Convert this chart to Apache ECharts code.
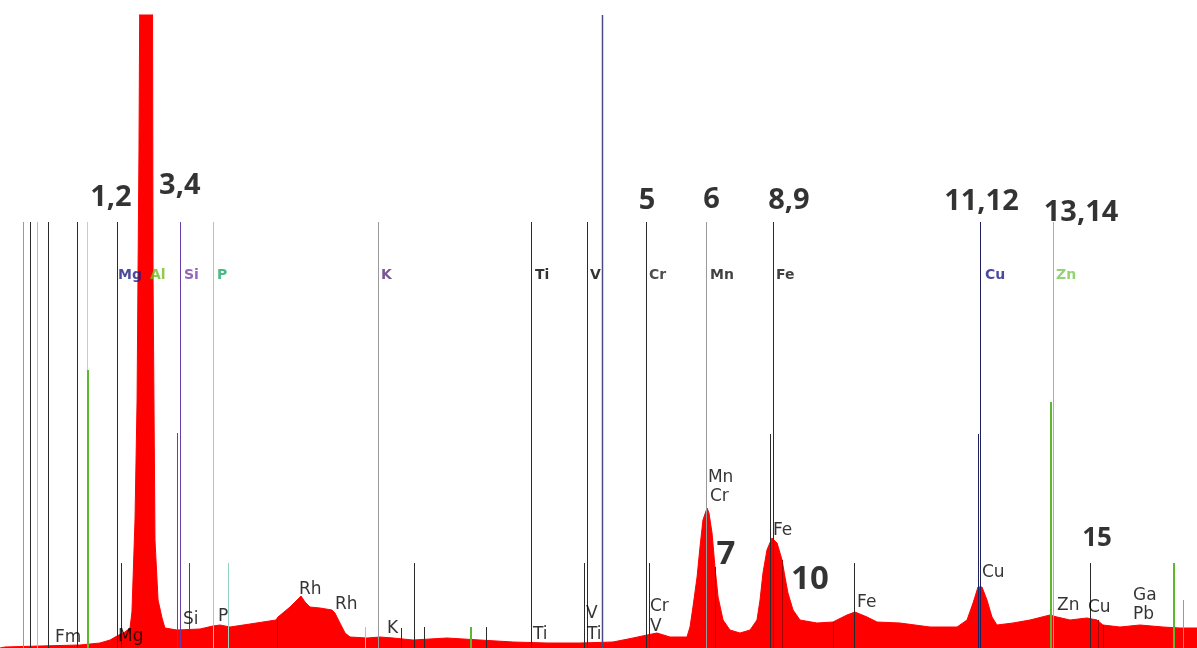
<!DOCTYPE html>
<html>
<head>
<meta charset="utf-8">
<script src="https://cdn.jsdelivr.net/npm/echarts@6/dist/echarts.min.js"></script>
<style>
html,body{margin:0;padding:0;background:#fff;}
#chart{width:1197px;height:648px;}
</style>
</head>
<body>
<div id="chart"></div>
<script>
// ---- Spectrum (energy in keV, intensity in counts) ----
const energy = [0.367,0.406,0.680,0.992,1.148,1.227,1.281,1.344,1.383,1.398,1.422,1.438,1.445,1.453,1.461,1.469,1.555,1.563,1.570,1.578,1.602,1.633,1.656,1.750,1.930,2.031,2.086,2.164,2.320,2.523,2.539,2.633,2.688,2.719,2.750,2.789,2.867,2.961,2.984,3.023,3.063,3.102,3.234,3.336,3.438,3.594,3.859,4.117,4.375,4.641,4.898,5.156,5.313,5.422,5.500,5.602,5.734,5.758,5.781,5.813,5.836,5.859,5.891,5.906,5.930,5.953,5.977,6.016,6.070,6.148,6.227,6.281,6.305,6.328,6.359,6.398,6.438,6.477,6.500,6.523,6.563,6.617,6.750,6.875,6.984,7.047,7.141,7.219,7.398,7.633,7.844,7.922,7.969,8.008,8.039,8.078,8.117,8.156,8.281,8.414,8.570,8.625,8.727,8.859,8.938,8.984,9.117,9.273,9.453,9.586,9.719];
const counts = [0,1,2,3,5,8,12,16,20,36,128,248,368,498,498,900,900,368,248,108,48,30,20,18,19,22,23,21,24,28,31,41,48,52,46,41,40,38,35,25,15,11,10,11,10,8,10,8,6,5,5,6,10,13,15,11,11,21,41,71,101,128,140,135,115,81,51,28,18,15,18,28,48,75,98,110,105,88,71,55,38,28,25,26,33,36,31,26,25,21,21,28,45,61,61,48,31,23,25,28,33,31,28,30,28,23,21,23,21,20,20];

// ---- Element marker lines ----
const markerE   = [0.547,0.602,0.656,0.742,0.969,1.047,1.281,1.773,2.031,3.320,4.516,4.953,5.414,5.883,6.406,8.023,8.594,
                   5.070,
                   1.055,1.750,6.383,8.008,8.578,
                   1.313,1.844,2.148,3.602,4.930,5.438,7.039,8.883,9.539,
                   3.219,3.500,3.680,4.047,4.164,9.609,
                   2.531,5.953,6.477,6.875,8.945,8.984];
const markerTop = [426,426,426,426,426,426,426,426,426,426,426,426,426,426,426,426,426,
                   633,
                   278,215,214,214,246,
                   85,85,85,85,85,85,85,85,85,
                   21,20,21,21,21,48,
                   28,81,88,26,28,23];
const markerKind = ['gray','dark','lightgray','dark','dark','palegreen','dark','purple','teal','gray','dark','dark','dark','gray','dark','navy','palegreen2',
                    'blue',
                    'green','purple','dark','navy','green',
                    'dark','indigo','teal','dark','dark','dark','dark','dark','green',
                    'teal','dark','dark','green','dark','gray',
                    'shade','shade','shade','shade','shade','shade'];

// ---- Element name row (top) ----
const elemNames = ['Mg','Al','Si','P','K','Ti','V','Cr','Mn','Fe','Cu','Zn'];
const elemE     = [1.289,1.539,1.805,2.063,3.344,4.547,4.977,5.438,5.914,6.430,8.063,8.617];
const elemRow   = 373;

// ---- Peak labels ----
const peakNames = ['Fm','Mg','Si','P','Rh','Rh','K','Ti','V','Ti','Cr','V','Mn','Cr','Fe','Fe','Cu','Zn','Cu','Ga','Pb'];
const peakE     = [0.797,1.289,1.797,2.070,2.703,2.984,3.391,4.531,4.945,4.953,5.445,5.445,5.898,5.914,6.406,7.063,8.039,8.625,8.867,9.219,9.219];
const peakY     = [10,11,28,31,58,43,19,13,34,13,41,21,170,151,117,45,75,42,40,52,33];

// ---- Numbered peak groups ----
const groupNames = ['1,2','3,4','5','6','7','8,9','10','11,12','13,14','15'];
const groupE     = [1.234,1.772,5.422,5.926,6.039,6.531,6.695,8.035,8.813,8.938];
const groupY     = [450,462,447,448,93,447,68,446,435,109];

// ---- Styles ----
const X_MIN = 0.3672, X_MAX = 9.71875, Y_MAX = 633;
const kindStyle = {
  dark:['#2b2b2b',1], gray:['#9a9a9a',1], lightgray:['#b9b9b9',1], palegreen:['#b8dca0',1], palegreen2:['#8cc872',1],
  green:['#5cb82c',2], purple:['#6a3ea8',1], teal:['#93d3c3',1], navy:['#20205e',1], blue:['#4b4b82',1.5],
  indigo:['#4a3f8a',1], shade:['#a80000',1]
};
const elemColor = {Mg:'#1d1d86',Al:'#6fbf1f',Si:'#7b3fa8',P:'#1fa865',K:'#5b2a78',Ti:'#000',V:'#000',Cr:'#222',Mn:'#111',Fe:'#111',Cu:'#1c1c8a',Zn:'#78c850'};
const groupSize = {'7':33,'10':33,'15':26};

const chart = echarts.init(document.getElementById('chart'), null, {renderer:'canvas'});
const option = {
  animation:false,
  backgroundColor:'#ffffff',
  grid:{left:0,right:0,top:15,bottom:0},
  xAxis:{type:'value',min:X_MIN,max:X_MAX,show:false},
  yAxis:{type:'value',min:0,max:Y_MAX,show:false},
  series:[
    {
      type:'line', name:'spectrum', silent:true, z:2,
      data: energy.map((e,i)=>[e,counts[i]]),
      showSymbol:false, symbol:'none',
      lineStyle:{color:'#ff0000',width:1},
      areaStyle:{color:'#ff0000',opacity:1},
      clip:true
    },
    {
      type:'custom', name:'lines', silent:true, z:3,
      data: markerE.map((e,i)=>[e,markerTop[i]]),
      renderItem:function(params,api){
        const i = params.dataIndex;
        const st = kindStyle[markerKind[i]];
        const p0 = api.coord([api.value(0),0]);
        const p1 = api.coord([api.value(0),api.value(1)]);
        const x = Math.round(p0[0]) + (st[1]===2?0:0.5);
        return {type:'line', shape:{x1:x,y1:p0[1],x2:x,y2:p1[1]}, style:{stroke:st[0],lineWidth:st[1]}};
      }
    },
    {
      type:'scatter', name:'elements', silent:true, z:4, symbolSize:0,
      itemStyle:{color:'transparent'},
      data: elemNames.map((n,i)=>({value:[elemE[i],elemRow],name:n,
        label:{color:elemColor[n]}})),
      label:{show:true,position:'right',distance:0,formatter:p=>p.name,
        fontFamily:'DejaVu Sans',fontWeight:'bold',fontSize:14}
    },
    {
      type:'scatter', name:'peaks', silent:true, z:5, symbolSize:0,
      itemStyle:{color:'transparent'},
      data: peakNames.map((n,i)=>({value:[peakE[i],peakY[i]],name:n})),
      label:{show:true,position:'right',distance:0,formatter:p=>p.name,
        fontFamily:'DejaVu Sans',fontSize:17,color:'#000'}
    },
    {
      type:'scatter', name:'groups', silent:true, z:6, symbolSize:0,
      itemStyle:{color:'transparent'},
      data: groupNames.map((n,i)=>({value:[groupE[i],groupY[i]],name:n,
        label:{fontSize:groupSize[n]||29}})),
      label:{show:true,position:'inside',formatter:p=>p.name,
        fontFamily:'Open Sans',fontWeight:'bold',color:'#000'}
    }
  ]
};
chart.setOption(option);
</script>
</body>
</html>
